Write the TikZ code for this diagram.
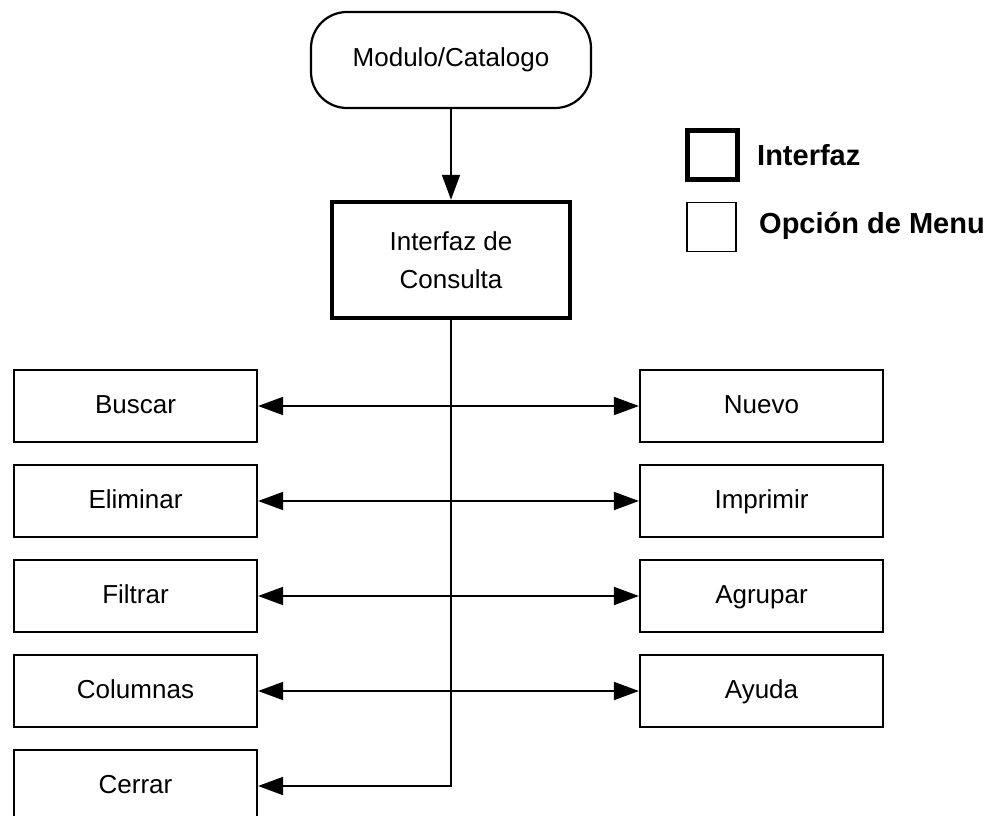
\documentclass[tikz,border=0pt]{standalone}
\usepackage{fontspec}
\setmainfont{Liberation Sans}
\usetikzlibrary{arrows.meta}
\begin{document}
\begin{tikzpicture}[x=1pt,y=-1pt,
  txt/.style={font=\fontsize{26}{38}\selectfont},
  opt/.style={draw, line width=2.2pt, minimum width=243pt, minimum height=72pt, inner sep=0pt, text height=19pt, text depth=5pt, txt},
  iface/.style={draw, line width=4.5pt, minimum width=238pt, minimum height=116pt, align=center, inner sep=0pt, txt},
  term/.style={draw, line width=2.2pt, rounded corners=36pt, minimum width=280pt, minimum height=96pt, inner sep=0pt, txt},
  conn/.style={line width=1.8pt, -{Triangle[length=25pt,width=18pt]}},
  conn2/.style={line width=1.8pt, {Triangle[length=25pt,width=18pt]}-{Triangle[length=25pt,width=18pt]}},
  legtxt/.style={font=\fontsize{29}{34}\selectfont\bfseries, anchor=west, inner sep=0pt}
]
\useasboundingbox (0,0) rectangle (1005,816);
\clip (0,0) rectangle (1005,816);

\node[term] (mod) at (451,60) {Modulo/Catalogo};
\node[iface] (cons) at (451,260) {Interfaz de\\Consulta};

\node[opt] (buscar) at (135.5,406) {Buscar};
\node[opt] (elim) at (135.5,501) {Eliminar};
\node[opt] (filt) at (135.5,596) {Filtrar};
\node[opt] (col) at (135.5,691) {Columnas};
\node[opt] (cerrar) at (135.5,786) {Cerrar};

\node[opt] (nuevo) at (761.5,406) {Nuevo};
\node[opt] (impr) at (761.5,501) {Imprimir};
\node[opt] (agr) at (761.5,596) {Agrupar};
\node[opt] (ayuda) at (761.5,691) {Ayuda};

% legend
\node[draw, line width=4.5pt, minimum width=50pt, minimum height=49pt, inner sep=0pt] (legI) at (712.5,155) {};
\node[legtxt] (legIt) at (757,155) {Interfaz};
\node[draw, line width=1.8pt, minimum width=49pt, minimum height=49pt, inner sep=0pt] (legO) at (711.5,227) {};
\node[legtxt] (legOt) at (759,226) {Opción de Menu};

% connectors
\draw[conn] (mod.south) -- (cons.north);
\draw[conn] (cons.south) |- (cerrar.east);
\draw[conn2] (buscar.east) -- (nuevo.west);
\draw[conn2] (elim.east) -- (impr.west);
\draw[conn2] (filt.east) -- (agr.west);
\draw[conn2] (col.east) -- (ayuda.west);
\end{tikzpicture}
\end{document}
